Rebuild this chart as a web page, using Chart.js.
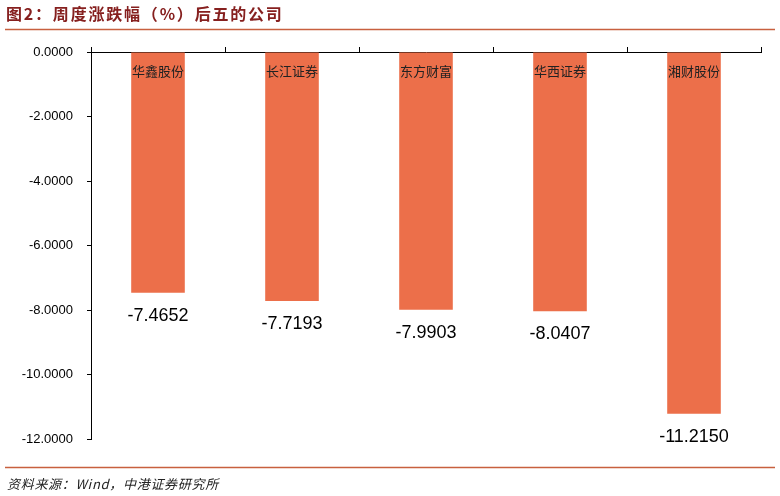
<!DOCTYPE html>
<html>
<head>
<meta charset="utf-8">
<script src="https://cdn.jsdelivr.net/npm/chart.js@4"></script>
<style>
  html, body { margin: 0; padding: 0; background: #fff; }
  #wrap { width: 780px; height: 496px; }
</style>
</head>
<body>
<div id="wrap"><canvas id="myChart" width="780" height="496"></canvas></div>
<script>
var companies = ['华鑫股份', '长江证券', '东方财富', '华西证券', '湘财股份'];
var weeklyChange = [-7.4652, -7.7193, -7.9903, -8.0407, -11.2150];
var yTicks = [0, -2, -4, -6, -8, -10, -12];

var titleText = '图2：周度涨跌幅（%）后五的公司';
var sourceText = '资料来源：Wind，中港证券研究所';
var cjk = '"Noto Sans CJK SC", "Liberation Sans", sans-serif';

// title, footer, separator lines, category names and value labels
var decor = {
    id: 'decor',
    afterDraw: function(chart) {
        var c = chart.ctx;
        c.save();
        c.fillStyle = '#86201f';
        c.font = 'bold 16px ' + cjk;
        c.letterSpacing = '1.8px';
        c.textBaseline = 'middle';
        c.textAlign = 'left';
        c.fillText(titleText, 6, 14);

        c.strokeStyle = '#c8603f';
        c.lineWidth = 1.3;
        c.beginPath();
        c.moveTo(5, 29.5); c.lineTo(775, 29.5);
        c.moveTo(5, 467.5); c.lineTo(775, 467.5);
        c.stroke();

        c.fillStyle = '#222';
        c.font = 'italic 13px ' + cjk;
        c.letterSpacing = '0.7px';
        c.fillText(sourceText, 7, 484);
        c.letterSpacing = '0px';

        var meta = chart.getDatasetMeta(0);
        var x = chart.scales.x;
        c.textAlign = 'center';
        for (var i = 0; i < companies.length; i++) {
            var px = x.getPixelForValue(i);
            c.fillStyle = '#222';
            c.font = '13px ' + cjk;
            c.textBaseline = 'middle';
            c.fillText(companies[i], px, 71);

            c.fillStyle = '#000';
            c.font = '18px "Liberation Sans", Arial, sans-serif';
            c.textBaseline = 'top';
            c.fillText(weeklyChange[i].toFixed(4), px, meta.data[i].y + 14);
        }
        c.restore();
    }
};

var ctx = document.getElementById('myChart').getContext('2d');
var myChart = new Chart(ctx, {
    type: 'bar',
    data: {
        labels: companies,
        datasets: [{
            data: weeklyChange,
            backgroundColor: '#ec6f4a',
            borderWidth: 0,
            categoryPercentage: 1,
            barPercentage: 0.4
        }]
    },
    options: {
        responsive: false,
        animation: false,
        layout: { padding: { top: 46, bottom: 57, right: 19, left: 0 } },
        plugins: { legend: { display: false }, tooltip: { enabled: false } },
        scales: {
            x: {
                position: 'top',
                afterFit: function(s) { s.height = 6; },
                ticks: { display: false },
                grid: { drawOnChartArea: false, tickLength: 5, color: '#000', offset: true },
                border: { color: '#000', width: 1 }
            },
            y: {
                min: -12,
                max: 0,
                afterFit: function(s) { s.width = 91; },
                afterBuildTicks: function(s) { s.ticks = yTicks.map(function(v) { return { value: v }; }); },
                ticks: {
                    color: '#000',
                    padding: 14,
                    font: { size: 13, family: '"Liberation Sans", Arial, sans-serif' },
                    callback: function(v) { return v.toFixed(4); }
                },
                grid: { drawOnChartArea: false, tickLength: 4, color: '#000' },
                border: { color: '#000', width: 1 }
            }
        }
    },
    plugins: [decor]
});
</script>
</body>
</html>
